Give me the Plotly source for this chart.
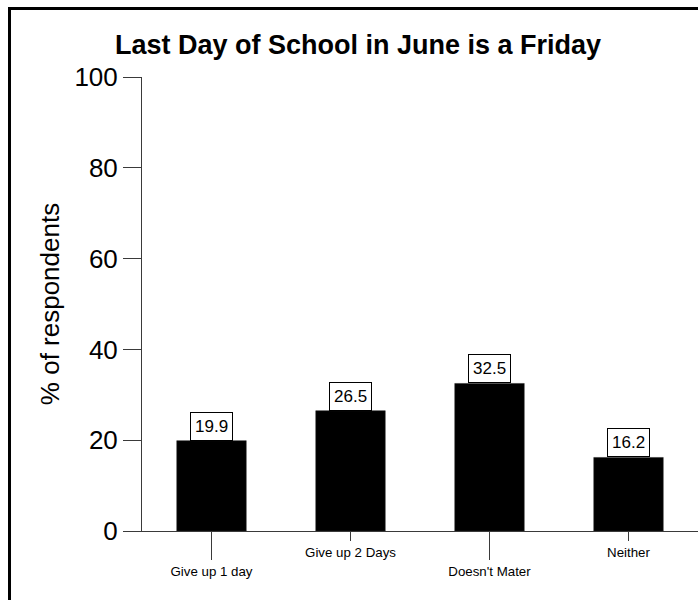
import plotly.graph_objects as go

categories = ["Give up 1 day", "Give up 2 Days", "Doesn't Mater", "Neither"]
values = [19.9, 26.5, 32.5, 16.2]
y_ticks = [0, 20, 40, 60, 80, 100]

FONT = "Liberation Sans, Arial, sans-serif"
AXIS = "#3a3a3a"

idx = list(range(len(categories)))

fig = go.Figure()
fig.add_trace(go.Bar(
    x=idx, y=values, width=0.5,
    marker=dict(color="black", line=dict(color="#222", width=0.5)),
    showlegend=False, hoverinfo="skip",
))

# value boxes sitting on top of each bar
for i, v in zip(idx, values):
    fig.add_annotation(
        x=i, y=v, xref="x", yref="y", text=f"{v:.1f}", showarrow=False,
        yanchor="bottom", xanchor="center",
        font=dict(family=FONT, size=17, color="black"),
        bgcolor="white", bordercolor="black", borderwidth=1, borderpad=4,
    )

# frame around the whole chart (left and top edges visible)
fig.add_shape(type="rect", xref="paper", yref="paper",
              x0=-0.2383, x1=1.2, y0=-0.5, y1=1.1509,
              line=dict(color="black", width=3), fillcolor="rgba(0,0,0,0)")

even = idx[0::2]
odd = idx[1::2]

fig.update_layout(
    width=698, height=600,
    margin=dict(l=142, r=0, t=77, b=69),
    paper_bgcolor="white", plot_bgcolor="white",
    font=dict(family=FONT, color="black"),
    title=dict(text="<b>Last Day of School in June is a Friday</b>",
               x=0.513, xref="container", xanchor="center",
               y=0.925, yref="container", yanchor="middle",
               font=dict(family=FONT, size=27, color="black")),
    xaxis=dict(range=[-0.5, 3.5], showgrid=False, zeroline=False,
               showline=True, linecolor=AXIS, linewidth=1,
               tickmode="array", tickvals=even,
               ticktext=[categories[i] for i in even],
               ticks="outside", ticklen=28, tickcolor=AXIS, tickwidth=1,
               tickfont=dict(family=FONT, size=13.3, color="black")),
    xaxis2=dict(range=[-0.5, 3.5], overlaying="x", side="bottom",
                showgrid=False, zeroline=False, showline=False,
                tickmode="array", tickvals=odd,
                ticktext=[categories[i] for i in odd],
                ticks="outside", ticklen=9, tickcolor=AXIS, tickwidth=1,
                tickfont=dict(family=FONT, size=13.3, color="black")),
    yaxis=dict(range=[0, 100], showgrid=False, zeroline=False,
               showline=True, linecolor=AXIS, linewidth=1,
               tickmode="array", tickvals=y_ticks,
               ticks="outside", ticklen=18, tickcolor=AXIS, tickwidth=1,
               tickfont=dict(family=FONT, size=26, color="black"),
               title=dict(text="% of respondents", standoff=7,
                          font=dict(family=FONT, size=26, color="black"))),
)

# invisible trace so the second category axis is rendered
fig.add_trace(go.Scatter(x=odd, y=[0] * len(odd), xaxis="x2", mode="markers",
                         marker=dict(opacity=0), showlegend=False,
                         hoverinfo="skip"))

fig.write_html("out.html")
